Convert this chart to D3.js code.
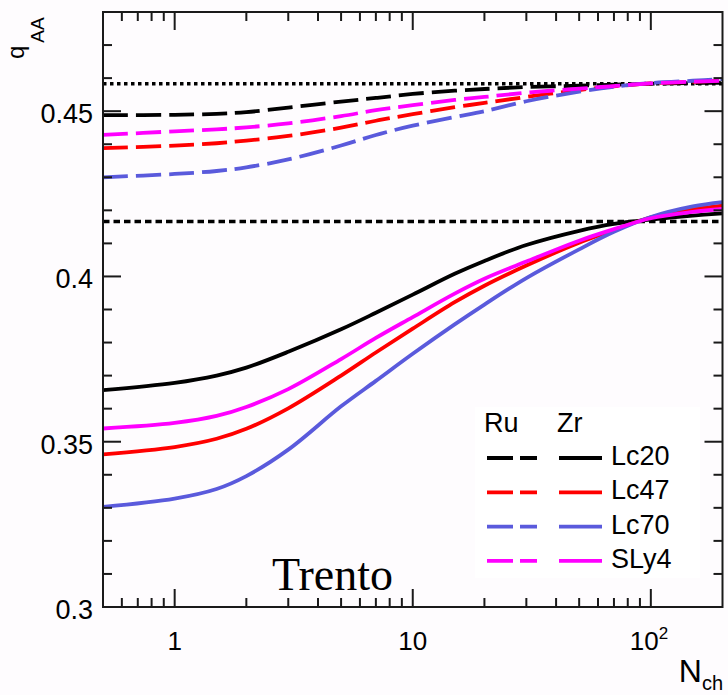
<!DOCTYPE html>
<html>
<head>
<meta charset="utf-8">
<script src="https://cdn.jsdelivr.net/npm/d3@7"></script>
<style>
  html, body { margin: 0; padding: 0; background: #fefcfe; }
  svg { display: block; }
</style>
</head>
<body>
<svg id="chart" width="728" height="695"></svg>
<script>
// ---------- data ----------
const nch = [0.5, 1, 1.5, 2, 3, 5, 7, 10, 15, 20, 30, 50, 70, 100, 150, 200];

// Zr (solid)
const zrLc20 = [0.3656, 0.3678, 0.3700, 0.3724, 0.3772, 0.3840, 0.3890, 0.3945, 0.4008, 0.4047, 0.4095, 0.4138, 0.4159, 0.4172, 0.4184, 0.4191];
const zrLc47 = [0.3462, 0.3484, 0.3509, 0.3539, 0.3601, 0.3700, 0.3770, 0.3842, 0.3922, 0.3972, 0.4033, 0.4102, 0.4140, 0.4179, 0.4203, 0.4214];
const zrLc70 = [0.3303, 0.3328, 0.3357, 0.3396, 0.3476, 0.3607, 0.3684, 0.3766, 0.3855, 0.3915, 0.3995, 0.4082, 0.4135, 0.4180, 0.4212, 0.4225];
const zrSLy4 = [0.3540, 0.3557, 0.3578, 0.3605, 0.3659, 0.3750, 0.3814, 0.3877, 0.3948, 0.3993, 0.4045, 0.4108, 0.4143, 0.4176, 0.4195, 0.4204];

// Ru (dashed)
const ruLc20 = [0.4488, 0.4489, 0.4492, 0.4497, 0.4511, 0.4529, 0.4540, 0.4552, 0.4562, 0.4567, 0.4573, 0.4577, 0.4580, 0.4583, 0.4585, 0.4586];
const ruLc47 = [0.4388, 0.4396, 0.4403, 0.4411, 0.4425, 0.4450, 0.4471, 0.4491, 0.4512, 0.4525, 0.4543, 0.4564, 0.4575, 0.4584, 0.4589, 0.4592];
const ruLc70 = [0.4300, 0.4310, 0.4319, 0.4330, 0.4354, 0.4396, 0.4428, 0.4456, 0.4482, 0.4500, 0.4530, 0.4559, 0.4574, 0.4585, 0.4592, 0.4597];
const ruSLy4 = [0.4428, 0.4439, 0.4445, 0.4451, 0.4463, 0.4485, 0.4503, 0.4518, 0.4534, 0.4543, 0.4556, 0.4568, 0.4576, 0.4584, 0.4589, 0.4592];

// reference (dotted) levels
const refRu = 0.4583;
const refZr = 0.4166;

const models = ["Lc20", "Lc47", "Lc70", "SLy4"];
const yTickLabels = ["0.3", "0.35", "0.4", "0.45"];
const yTickValues = [0.3, 0.35, 0.4, 0.45];
const xTickValues = [1, 10, 100];

// ---------- layout ----------
const W = 728, H = 695;
const L = 103, R = 722.5, T = 12, B = 607;
const colors = { Lc20: "#000000", Lc47: "#ff0000", Lc70: "#5a5adc", SLy4: "#ff00ff" };

const svg = d3.select("#chart");
svg.append("rect").attr("width", W).attr("height", H).attr("fill", "#fefcfe");

const x = d3.scaleLog().domain([0.5, 200]).range([L, R]);
const y = d3.scaleLinear().domain([0.3, 0.48]).range([B, T]);

svg.append("defs").append("clipPath").attr("id", "clip")
  .append("rect").attr("x", L).attr("y", T).attr("width", R - L).attr("height", B - T);

const plot = svg.append("g").attr("clip-path", "url(#clip)");

// reference lines
plot.append("line").attr("x1", L).attr("x2", R).attr("y1", y(refRu)).attr("y2", y(refRu))
  .attr("stroke", "#000").attr("stroke-width", 3.3).attr("stroke-dasharray", "3.5,3.5");
plot.append("line").attr("x1", L).attr("x2", R).attr("y1", y(refZr)).attr("y2", y(refZr))
  .attr("stroke", "#000").attr("stroke-width", 3.6).attr("stroke-dasharray", "6.5,4");

const line = d3.line().x((d, i) => x(nch[i])).y(d => y(d)).curve(d3.curveCatmullRom.alpha(0.5));

const ru = { Lc20: ruLc20, Lc47: ruLc47, Lc70: ruLc70, SLy4: ruSLy4 };
const zr = { Lc20: zrLc20, Lc47: zrLc47, Lc70: zrLc70, SLy4: zrSLy4 };

models.forEach(m => {
  plot.append("path").datum(ru[m]).attr("d", line)
    .attr("fill", "none").attr("stroke", colors[m]).attr("stroke-width", 3.8)
    .attr("stroke-dasharray", "25,8");
});
models.forEach(m => {
  plot.append("path").datum(zr[m]).attr("d", line)
    .attr("fill", "none").attr("stroke", colors[m]).attr("stroke-width", 3.8);
});

// ---------- axes (ticks inward on all sides) ----------
const axisColor = "#1a1a1a";
const majLen = 18, minLen = 9;
const axes = svg.append("g");

const xMinor = [];
[0.1, 1, 10, 100].forEach(dec => {
  for (let k = 2; k <= 9; k++) {
    const v = dec * k;
    if (v > 0.5 && v < 200 && ![1, 10, 100].includes(v)) xMinor.push(v);
  }
});
const xTicks = xTickValues.map(v => ({ v, len: majLen })).concat(xMinor.map(v => ({ v, len: minLen })));
xTicks.forEach(t => {
  axes.append("line").attr("x1", x(t.v)).attr("x2", x(t.v)).attr("y1", B).attr("y2", B - t.len)
    .attr("stroke", axisColor).attr("stroke-width", 2);
  axes.append("line").attr("x1", x(t.v)).attr("x2", x(t.v)).attr("y1", T).attr("y2", T + t.len)
    .attr("stroke", axisColor).attr("stroke-width", 2);
});

const yTicks = d3.range(0, 19).map(i => +(0.3 + i * 0.01).toFixed(2));
yTicks.forEach(v => {
  const len = yTickValues.some(m => Math.abs(m - v) < 1e-9) ? majLen : minLen;
  axes.append("line").attr("x1", L).attr("x2", L + len).attr("y1", y(v)).attr("y2", y(v))
    .attr("stroke", axisColor).attr("stroke-width", 2);
  axes.append("line").attr("x1", R).attr("x2", R - len).attr("y1", y(v)).attr("y2", y(v))
    .attr("stroke", axisColor).attr("stroke-width", 2);
});

axes.append("rect").attr("x", L).attr("y", T).attr("width", R - L).attr("height", B - T)
  .attr("fill", "none").attr("stroke", axisColor).attr("stroke-width", 2);

// tick labels
const font = "'Liberation Sans', Arial, Helvetica, sans-serif";
yTickValues.forEach((v, i) => {
  svg.append("text").attr("x", 93).attr("y", y(v) + 12).attr("text-anchor", "end")
    .attr("font-family", font).attr("font-size", 27).attr("fill", "#000").text(yTickLabels[i]);
});
svg.append("text").attr("x", x(1)).attr("y", 650).attr("text-anchor", "middle")
  .attr("font-family", font).attr("font-size", 26).text("1");
svg.append("text").attr("x", x(10)).attr("y", 650).attr("text-anchor", "middle")
  .attr("font-family", font).attr("font-size", 26).text("10");
const t100 = svg.append("text").attr("x", x(100) - 21).attr("y", 650).attr("text-anchor", "start")
  .attr("font-family", font).attr("font-size", 26);
t100.append("tspan").text("10");
t100.append("tspan").attr("dy", -11).attr("font-size", 17).text("2");

// axis titles
const xt = svg.append("text").attr("x", 723).attr("y", 682).attr("text-anchor", "end")
  .attr("font-family", font).attr("font-size", 32);
xt.append("tspan").text("N");
xt.append("tspan").attr("dy", 8).attr("font-size", 20).text("ch");

const yt = svg.append("text").attr("transform", "translate(24,59) rotate(-90)")
  .attr("font-family", font).attr("font-size", 24);
yt.append("tspan").text("q");
yt.append("tspan").attr("dy", 20).attr("dx", 3).attr("font-size", 19).text("AA");

// ---------- legend ----------
const lg = svg.append("g");
lg.append("rect").attr("x", 475).attr("y", 407).attr("width", 225).attr("height", 171).attr("fill", "#ffffff");
lg.append("text").attr("x", 484).attr("y", 432).attr("font-family", font).attr("font-size", 27).text("Ru");
lg.append("text").attr("x", 557).attr("y", 432).attr("font-family", font).attr("font-size", 27).text("Zr");
models.forEach((m, i) => {
  const by = 465 + i * 34.3;
  const ly = by - 7;
  lg.append("line").attr("x1", 487).attr("x2", 537).attr("y1", ly).attr("y2", ly)
    .attr("stroke", colors[m]).attr("stroke-width", 3.8).attr("stroke-dasharray", "26,7");
  lg.append("line").attr("x1", 559).attr("x2", 602).attr("y1", ly).attr("y2", ly)
    .attr("stroke", colors[m]).attr("stroke-width", 3.8);
  lg.append("text").attr("x", 611).attr("y", by).attr("font-family", font).attr("font-size", 27).text(m);
});

// Trento label
svg.append("text").attr("x", 272).attr("y", 590)
  .attr("font-family", "'Liberation Serif', 'Times New Roman', serif").attr("font-size", 46).text("Trento");
</script>
</body>
</html>
